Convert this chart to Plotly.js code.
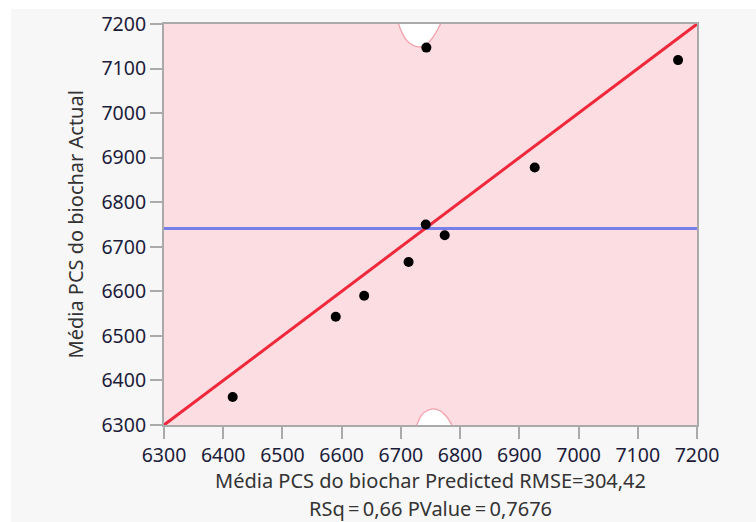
<!DOCTYPE html>
<html>
<head>
<meta charset="utf-8">
<script src="https://cdn.plot.ly/plotly-3.0.1.min.js"></script>
<style>
  html, body { margin: 0; padding: 0; background: #ffffff; }
  #chart { position: absolute; left: 11px; top: 9px; width: 745px; height: 513px; }
</style>
</head>
<body>
<div id="chart"></div>
<script>
// Predicted vs actual values
const predicted = [6743, 7168, 6926, 6742, 6774, 6713, 6638, 6590, 6416];
const actual    = [7147, 7119, 6878, 6750, 6726, 6666, 6590, 6543, 6363];

// Fit line (actual = predicted) and mean of actual
const fitX = [6300, 7200];
const fitY = [6300, 7200];
const meanX = [6300, 7200];
const meanActual = 6741;

// Confidence curve boundaries visible inside the plot
const upperBandX = [6696, 6701, 6707, 6715, 6727, 6740, 6755, 6763, 6767];
const upperBandY = [7200, 7183, 7168, 7157, 7149, 7151, 7172, 7190, 7200];
const lowerBandX = [6727, 6735, 6744, 6755, 6766, 6777, 6786];
const lowerBandY = [6300, 6322, 6332, 6336, 6332, 6319, 6300];

// Tick labels
const tickVals = [6300, 6400, 6500, 6600, 6700, 6800, 6900, 7000, 7100, 7200];
const tickText = tickVals.map(String);

const xTitle1 = 'Média PCS do biochar Predicted RMSE=304,42';
const xTitle2 = 'RSq\u2009=\u20090,66 PValue\u2009=\u20090,7676';
const yTitle = 'Média PCS do biochar Actual';

const bandLine = {color: 'rgb(244,160,172)', width: 1.3, shape: 'spline', smoothing: 1};

const traces = [
  {x: upperBandX, y: upperBandY, mode: 'lines', fill: 'toself', fillcolor: '#ffffff',
   line: bandLine, hoverinfo: 'skip', showlegend: false},
  {x: lowerBandX, y: lowerBandY, mode: 'lines', fill: 'toself', fillcolor: '#ffffff',
   line: bandLine, hoverinfo: 'skip', showlegend: false},
  {x: meanX, y: meanX.map(() => meanActual), mode: 'lines',
   line: {color: 'rgb(118,128,232)', width: 3}, showlegend: false},
  {x: fitX, y: fitY, mode: 'lines',
   line: {color: 'rgb(240,40,60)', width: 3}, showlegend: false},
  {x: predicted, y: actual, mode: 'markers',
   marker: {color: '#000000', size: 10}, showlegend: false}
];

const axisCommon = {
  range: [6300, 7200],
  tickvals: tickVals,
  ticktext: tickText,
  ticks: 'outside',
  ticklen: 12,
  tickwidth: 2,
  tickcolor: '#aaaaaa',
  showline: true,
  mirror: true,
  linecolor: '#aaaaaa',
  linewidth: 2,
  showgrid: false,
  zeroline: false,
  tickfont: {family: 'Noto Sans, sans-serif', size: 19.5, color: '#1c1c3a'},
  fixedrange: true
};

const titleFont = {family: 'Noto Sans, sans-serif', size: 20, color: '#333333'};

const layout = {
  width: 745,
  height: 513,
  margin: {l: 153, r: 59, t: 15, b: 97},
  paper_bgcolor: '#f7f7f7',
  plot_bgcolor: '#fcdde1',
  xaxis: Object.assign({}, axisCommon),
  yaxis: Object.assign({}, axisCommon),
  annotations: [
    {text: xTitle1, xref: 'paper', yref: 'paper', x: 0.5, y: 0, yshift: -55,
     xanchor: 'center', yanchor: 'middle', showarrow: false, font: titleFont},
    {text: xTitle2, xref: 'paper', yref: 'paper', x: 0.5, y: 0, yshift: -83,
     xanchor: 'center', yanchor: 'middle', showarrow: false, font: titleFont},
    {text: yTitle, xref: 'paper', yref: 'paper', x: 0, y: 0.5, xshift: -89,
     xanchor: 'center', yanchor: 'middle', textangle: -90, showarrow: false, font: titleFont}
  ]
};

Plotly.newPlot('chart', traces, layout, {displayModeBar: false, staticPlot: true});
</script>
</body>
</html>
